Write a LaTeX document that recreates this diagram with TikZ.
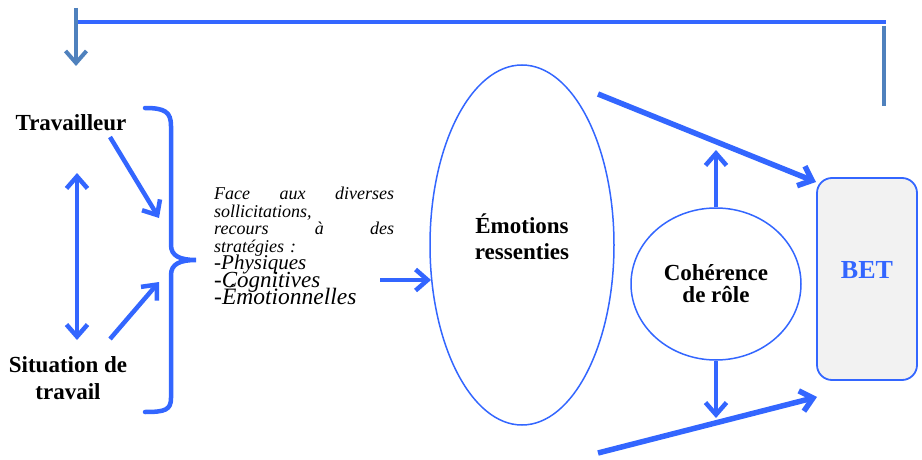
\documentclass[tikz,border=0pt]{standalone}
\usepackage{fontspec}
\setmainfont{Liberation Serif}
\usetikzlibrary{arrows.meta,shapes.geometric,positioning}
\definecolor{bleu}{HTML}{3366FF}
\definecolor{acier}{HTML}{4F81BD}
\definecolor{grisfond}{HTML}{F2F2F2}
\newcommand{\serrer}{\setlength{\lineskiplimit}{-50pt}\setlength{\lineskip}{0pt}}
\newcommand{\ligne}[3]{\leavevmode\hbox to 180pt{#1\hfil #2\hfil #3}}

\begin{document}
\begin{tikzpicture}[x=1pt,y=-1pt,
    every node/.style={inner sep=0pt},
    arr/.style={-{Straight Barb[length=12pt,width=21pt]}},
    big/.style={draw=bleu, line width=4.5pt},
    fb/.style={draw=acier, line width=4pt},
    lbl/.style={font=\bfseries\fontsize{23}{27}\selectfont, align=center},
    ell/.style={shape=ellipse, draw=bleu, line width=1.5pt}]
	\useasboundingbox (0,0) rectangle (922,460);
	% create the nodes
	\node (trav) [lbl, anchor=base] at (71,131) {Travailleur};
	\node (sit) [lbl] at (68,378) {Situation de\\travail};
	\node (strat) [anchor=north west, text width=180pt, align=left,
	      font=\itshape\fontsize{18}{17.5}\selectfont\serrer] at (214,187)
	      {\ligne{Face}{aux}{diverses}\\
	       sollicitations,\\
	       \ligne{recours}{à}{des}\\
	       stratégies :\\
	       {\fontsize{21}{17}\selectfont -Physiques}\\
	       {\fontsize{23}{18.5}\selectfont -Cognitives}\\
	       {\fontsize{23.5}{19.5}\selectfont -Émotionnelles}};
	\node (emo) [ell, minimum width=184pt, minimum height=360pt] at (522,245) {};
	\node (emotxt) [lbl, font=\bfseries\fontsize{23}{26}\selectfont] at (522,237) {Émotions\\ressenties};
	\node (coh) [ell, minimum width=170pt, minimum height=152pt,
	      font=\bfseries\fontsize{23}{22}\selectfont, align=center] at (716,284) {Cohérence\\de rôle};
	\node (bet) [draw=bleu, line width=1.8pt, fill=grisfond, rounded corners=15pt,
	      minimum width=100pt, minimum height=202pt] at (867,279) {};
	\node (bettxt) [font=\bfseries\fontsize{26}{30}\selectfont, text=bleu] at (867,270) {BET};

	% free ends of the connectors
	\coordinate (l0) at (76,8);
	\coordinate (l1) at (76,66);
	\coordinate (h0) at (77,22);
	\coordinate (h1) at (886,22);
	\coordinate (r0) at (884,26);
	\coordinate (r1) at (884,106);
	\coordinate (d0) at (77,173);
	\coordinate (d1) at (77,340);
	\coordinate (t0) at (110,137);
	\coordinate (t1) at (159,218);
	\coordinate (s0) at (110,339);
	\coordinate (s1) at (159,282);
	\coordinate (e0) at (380,280);
	\coordinate (e1) at (431,280);
	\coordinate (up) at (716,150);
	\coordinate (dn) at (716,418);
	\coordinate (a0) at (598,94);
	\coordinate (a1) at (816,182);
	\coordinate (b0) at (598,453);
	\coordinate (b1) at (817,397);

	% feedback loop
	\draw[big] (h0) -- (h1);
	\draw[fb] (r0) -- (r1);
	\draw[fb, arr] (l0) -- (l1);

	% brace
	\draw[big, line cap=round] (145,108) .. controls (165,108) and (171,112) .. (171,126) -- (171,245)
	    .. controls (171,256) and (180,260) .. (196,260)
	    .. controls (180,260) and (171,264) .. (171,275) -- (171,398)
	    .. controls (171,410) and (165,412) .. (145,412);

	% connect the nodes
	\draw[big, {Straight Barb[length=12pt,width=21pt]}-{Straight Barb[length=12pt,width=21pt]}] (d0) -- (d1);
	\draw[big, arr] (t0) -- (t1);
	\draw[big, arr] (s0) -- (s1);
	\draw[big, arr] (e0) -- (e1);
	\draw[big, arr] (coh.north) -- (up);
	\draw[big, arr] (coh.south) -- (dn);
	\draw[big, line width=5.5pt, arr] (a0) -- (a1);
	\draw[big, line width=5.5pt, arr] (b0) -- (b1);

\end{tikzpicture}
\end{document}
